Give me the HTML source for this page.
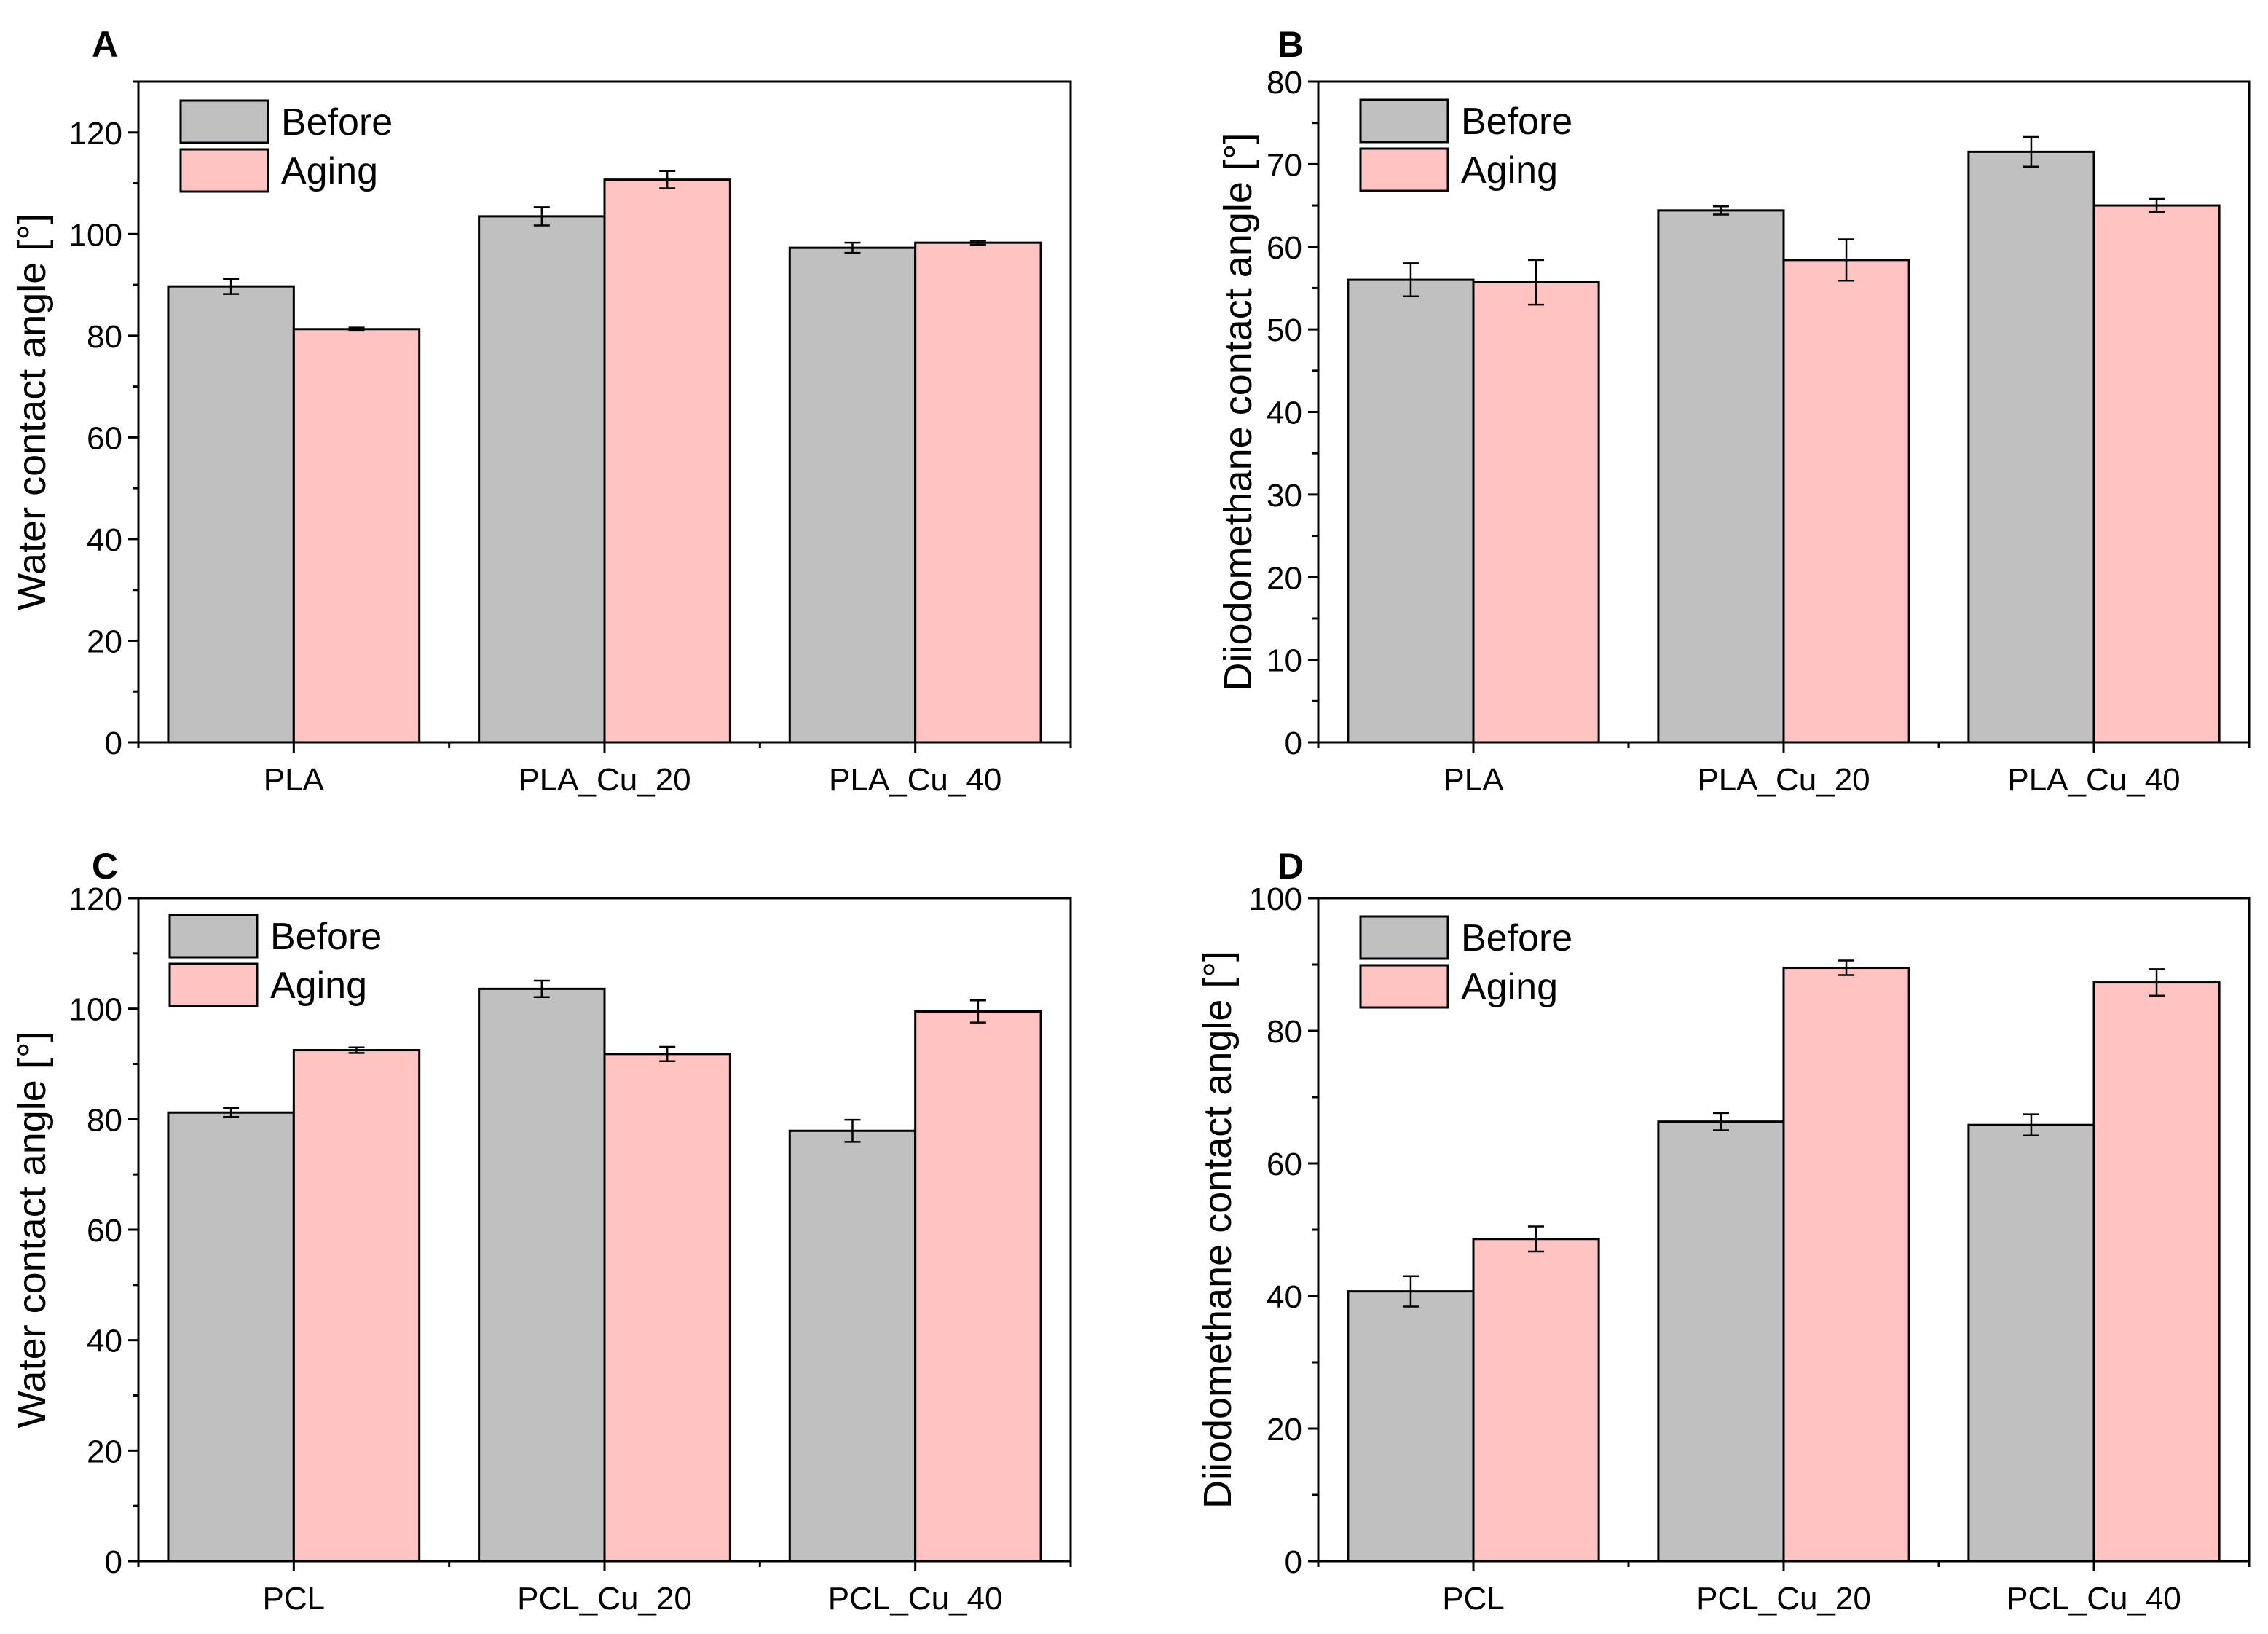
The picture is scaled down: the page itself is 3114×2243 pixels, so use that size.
<!DOCTYPE html>
<html><head><meta charset="utf-8"><style>
html,body{margin:0;padding:0;background:#fff}
svg{display:block;font-family:"Liberation Sans",Arial,sans-serif}
</style></head><body>
<svg id="fig" width="3114" height="2243" viewBox="0 0 3114 2243" xmlns="http://www.w3.org/2000/svg"></svg>
<script>
const catsA = ["PLA","PLA_Cu_20","PLA_Cu_40"];
const catsC = ["PCL","PCL_Cu_20","PCL_Cu_40"];
const beforeA = [89.7,103.5,97.3]; const beforeErrA = [1.5,1.8,1.0];
const agingA = [81.3,110.7,98.3]; const agingErrA = [0.3,1.7,0.4];
const beforeB = [56.0,64.4,71.5]; const beforeErrB = [2.0,0.5,1.8];
const agingB = [55.7,58.4,65.0]; const agingErrB = [2.7,2.5,0.8];
const beforeC = [81.2,103.6,77.9]; const beforeErrC = [0.8,1.5,2.0];
const agingC = [92.5,91.8,99.5]; const agingErrC = [0.5,1.3,2.0];
const beforeD = [40.7,66.3,65.8]; const beforeErrD = [2.3,1.3,1.6];
const agingD = [48.6,89.5,87.3]; const agingErrD = [1.9,1.1,2.0];
const ticksA = [0,20,40,60,80,100,120];
const ticksB = [0,10,20,30,40,50,60,70,80];
const ticksC = [0,20,40,60,80,100,120];
const ticksD = [0,20,40,60,80,100];

const NS="http://www.w3.org/2000/svg";
const svg=document.getElementById('fig');
function mk(tag,attrs,parent,text){const e=document.createElementNS(NS,tag);for(const k in attrs)e.setAttribute(k,attrs[k]);if(text!==undefined)e.textContent=text;(parent||svg).appendChild(e);return e;}

function panel(o){
  const g=mk('g',{});
  
  
  const L=o.left,R=o.right,T=o.top,B=o.bottom;
  const y=v=>B-(v-0)/(o.ymax)*(B-T);
  const step=(R-L)/3;
  const cx=i=>L+step*(i+0.5);
  const bw=step*0.404;
  const series=[[o.before,o.beforeErr,'#c0c0c0',-1,'before'],[o.aging,o.agingErr,'#ffc4c2',0,'aging']];
  series.forEach(s=>{
    s[0].forEach((v,i)=>{
      const x=cx(i)+s[3]*bw;
      const r=mk('rect',{x:x,y:y(v),width:bw,height:B-y(v),fill:s[2],stroke:'#000','stroke-width':3},g);
      
      
    });
  });
  series.forEach(s=>{
    s[0].forEach((v,i)=>{
      const xc=cx(i)+s[3]*bw+bw/2, e=s[1][i];
      const eg=mk('g',{stroke:'#000','stroke-width':2.5},g);
      
      
      mk('line',{x1:xc,x2:xc,y1:y(v+e),y2:y(v-e)},eg);
      mk('line',{x1:xc-11,x2:xc+11,y1:y(v+e),y2:y(v+e)},eg);
      mk('line',{x1:xc-11,x2:xc+11,y1:y(v-e),y2:y(v-e)},eg);
    });
  });
  const f=mk('rect',{x:L,y:T,width:R-L,height:B-T,fill:'none',stroke:'#000','stroke-width':3},g);
  
  
  o.ticks.forEach(t=>{
    mk('line',{x1:L-14,x2:L,y1:y(t),y2:y(t),stroke:'#000','stroke-width':3},g);
    const tx=mk('text',{x:L-22,y:y(t)+16,'text-anchor':'end','font-size':44,fill:'#000'},g,String(t));
    
    
  });
  for(let i=0;i<o.ticks.length-1;i++){
    const m=(o.ticks[i]+o.ticks[i+1])/2;
    mk('line',{x1:L-8,x2:L,y1:y(m),y2:y(m),stroke:'#000','stroke-width':3},g);
  }
  const last=o.ticks[o.ticks.length-1], d=o.ticks[1]-o.ticks[0];
  if(last+d/2<=o.ymax) mk('line',{x1:L-8,x2:L,y1:y(last+d/2),y2:y(last+d/2),stroke:'#000','stroke-width':3},g);
  for(let i=0;i<3;i++){
    mk('line',{x1:cx(i),x2:cx(i),y1:B,y2:B+14,stroke:'#000','stroke-width':3},g);
    const tx=mk('text',{x:cx(i),y:B+66,'text-anchor':'middle','font-size':44,fill:'#000'},g,o.cats[i]);
    
    
  }
  for(let i=0;i<=3;i++) mk('line',{x1:L+step*i,x2:L+step*i,y1:B,y2:B+8,stroke:'#000','stroke-width':3},g);
  const yc=(T+B)/2;
  const yt=mk('text',{x:o.titleX,y:yc,'text-anchor':'middle','font-size':54,fill:'#000',transform:`rotate(-90 ${o.titleX} ${yc})`},g,o.ytitle);
  
  
  const pl=mk('text',{x:o.letterX,y:o.letterY,'text-anchor':'middle','font-size':50,'font-weight':'bold',fill:'#000'},g,o.letter);
  
  
  const lg=mk('g',{},g);
  
  
  [['Before','#c0c0c0',0],['Aging','#ffc4c2',1]].forEach(it=>{
    const by=o.legY+it[2]*67;
    const e=mk('g',{},lg);
    
    
    mk('rect',{x:o.legX,y:by,width:120,height:58,fill:it[1],stroke:'#000','stroke-width':3},e);
    mk('text',{x:o.legX+138,y:by+47,'font-size':52,fill:'#000'},e,it[0]);
  });
}
const wTitle="Water contact angle [°]", dTitle="Diiodomethane contact angle [°]";
panel({letter:'A',left:190,right:1470,top:112,bottom:1019,ymax:130,ticks:ticksA,cats:catsA,before:beforeA,beforeErr:beforeErrA,aging:agingA,agingErr:agingErrA,ytitle:wTitle,titleX:62,letterX:144,letterY:78,legX:248,legY:138});
panel({letter:'B',left:1810,right:3088,top:112,bottom:1019,ymax:80,ticks:ticksB,cats:catsA,before:beforeB,beforeErr:beforeErrB,aging:agingB,agingErr:agingErrB,ytitle:dTitle,titleX:1718,letterX:1772,letterY:78,legX:1868,legY:137});
panel({letter:'C',left:190,right:1470,top:1233,bottom:2143,ymax:120,ticks:ticksC,cats:catsC,before:beforeC,beforeErr:beforeErrC,aging:agingC,agingErr:agingErrC,ytitle:wTitle,titleX:62,letterX:144,letterY:1206,legX:233,legY:1256});
panel({letter:'D',left:1810,right:3088,top:1233,bottom:2143,ymax:100,ticks:ticksD,cats:catsC,before:beforeD,beforeErr:beforeErrD,aging:agingD,agingErr:agingErrD,ytitle:dTitle,titleX:1690,letterX:1772,letterY:1206,legX:1868,legY:1258});
</script>
</body></html>
